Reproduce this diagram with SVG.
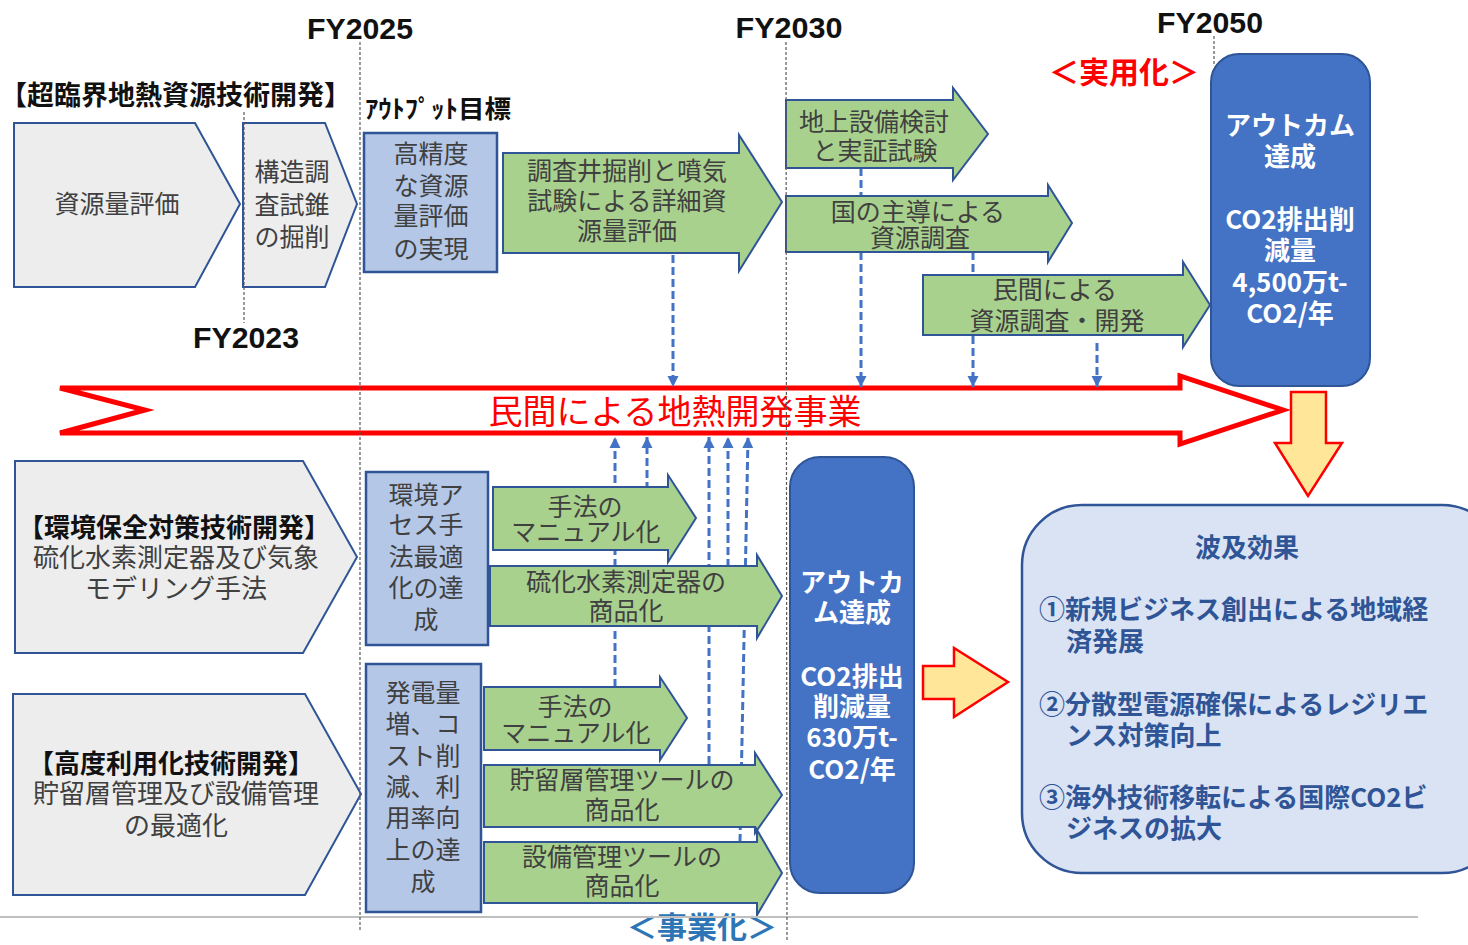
<svg xmlns="http://www.w3.org/2000/svg" width="1468" height="945" viewBox="0 0 1468 945">
<style>
text{font-family:"Noto Sans CJK JP","Noto Sans",sans-serif;}
.chev{fill:#ededed;stroke:#2f5597;stroke-width:2;}
.box{fill:#b4c7e7;stroke:#2f5597;stroke-width:2.5;}
.garr{fill:#a9d18e;stroke:#2f5597;stroke-width:2;}
.out{fill:#4472c4;stroke:#2f5597;stroke-width:2;}
.yarr{fill:#ffe699;stroke:#ff0000;stroke-width:2.5;}
.t{font-size:25px;fill:#404040;text-anchor:middle;}
.tb{font-size:26px;fill:#111;font-weight:bold;text-anchor:middle;}
.tw{font-size:26px;fill:#fff;font-weight:bold;text-anchor:middle;}
.tn{font-size:26px;fill:#2f5597;font-weight:bold;}
.fy{font-family:"Liberation Sans",Arial,sans-serif;font-size:30px;font-weight:bold;fill:#111;text-anchor:middle;}
.tl{stroke:#595959;stroke-width:1.2;stroke-dasharray:3,2;fill:none;}
.dc{stroke:#4472c4;stroke-width:3;stroke-dasharray:8,4;fill:none;}
</style>
<defs>
<marker id="ah" markerUnits="userSpaceOnUse" viewBox="0 0 10 10" refX="10" refY="5" markerWidth="11" markerHeight="12" orient="auto">
<path d="M0,0 L10,5 L0,10 Z" fill="#4472c4"/>
</marker>
</defs>
<rect width="1468" height="945" fill="#fff"/>

<!-- main red arrow -->
<g id="main-arrow">
<path d="M60,388 L1180,388 L1180,376 L1283,410 L1180,444 L1180,433 L60,433 L145,410 Z" fill="#fff" stroke="#ff0000" stroke-width="5" stroke-linejoin="miter"/>
<text x="675" y="424" style="font-size:34px;fill:#ff0000;text-anchor:middle;">民間による地熱開発事業</text>
</g>

<!-- connectors -->
<g id="connectors">
<line class="dc" x1="673" y1="255" x2="673" y2="387" marker-end="url(#ah)"/>
<line class="dc" x1="861" y1="168" x2="861" y2="387" marker-end="url(#ah)"/>
<line class="dc" x1="973" y1="252" x2="973" y2="387" marker-end="url(#ah)"/>
<line class="dc" x1="1097" y1="343" x2="1097" y2="387" marker-end="url(#ah)"/>
<line class="dc" x1="615" y1="687" x2="615" y2="437" marker-end="url(#ah)"/>
<line class="dc" x1="647" y1="490" x2="647" y2="437" marker-end="url(#ah)"/>
<line class="dc" x1="709" y1="764" x2="709" y2="437" marker-end="url(#ah)"/>
<line class="dc" x1="728" y1="567" x2="728" y2="437" marker-end="url(#ah)"/>
<line class="dc" x1="740" y1="842" x2="748" y2="437" marker-end="url(#ah)"/>
</g>

<!-- headings -->
<g id="title">
<text x="0" y="105" style="font-size:27px;font-weight:bold;fill:#111;">【超臨界地熱資源技術開発】</text>
</g>
<g id="output-label">
<text x="365" y="118" textLength="146" lengthAdjust="spacingAndGlyphs" style="font-size:25px;font-weight:bold;fill:#111;">ｱｳﾄﾌﾟｯﾄ目標</text>
</g>

<!-- top chevrons -->
<g id="n-shigen">
<path class="chev" d="M14,123 L195,123 L240,204 L195,287 L14,287 Z"/>
<text class="t" x="117" y="213">資源量評価</text>
</g>
<g id="n-kozo">
<path class="chev" d="M243,123 L325,123 L357,204 L325,287 L243,287 Z"/>
<text class="t" x="292" y="181">構造調</text>
<text class="t" x="292" y="214">査試錐</text>
<text class="t" x="292" y="246">の掘削</text>
</g>
<g id="n-koseido">
<rect class="box" x="364" y="133" width="133" height="139"/>
<text class="t" x="431" y="163">高精度</text>
<text class="t" x="431" y="195">な資源</text>
<text class="t" x="431" y="225">量評価</text>
<text class="t" x="431" y="258">の実現</text>
</g>

<!-- top green arrows -->
<g id="n-chosasei">
<path class="garr" d="M503,153 L739,153 L739,135 L782,202 L739,271 L739,253 L503,253 Z"/>
<text class="t" x="627" y="180">調査井掘削と噴気</text>
<text class="t" x="627" y="210">試験による詳細資</text>
<text class="t" x="627" y="240">源量評価</text>
</g>
<g id="n-chijo">
<path class="garr" d="M786,100 L953,100 L953,88 L988,134 L953,180 L953,168 L786,168 Z"/>
<text class="t" x="874" y="131">地上設備検討</text>
<text class="t" x="875" y="160">と実証試験</text>
</g>
<g id="n-kuni">
<path class="garr" d="M786,196 L1048,196 L1048,185 L1072,223 L1048,262 L1048,252 L786,252 Z"/>
<text class="t" x="918" y="221">国の主導による</text>
<text class="t" x="920" y="247">資源調査</text>
</g>
<g id="n-minkan">
<path class="garr" d="M923,275 L1183,275 L1183,262 L1210,305 L1183,347 L1183,335 L923,335 Z"/>
<text class="t" x="1055" y="299">民間による</text>
<text class="t" x="1057" y="330">資源調査・開発</text>
</g>

<!-- outcome top -->
<g id="n-outcome-top">
<rect class="out" x="1211" y="54" width="159" height="332" rx="28"/>
<text class="tw" x="1290" y="135">アウトカム</text>
<text class="tw" x="1290" y="166">達成</text>
<text class="tw" x="1290" y="229">CO2排出削</text>
<text class="tw" x="1290" y="260">減量</text>
<text class="tw" x="1290" y="292">4,500万t-</text>
<text class="tw" x="1290" y="323">CO2/年</text>
</g>
<g id="label-jitsuyo">
<text x="1124" y="83" style="font-size:30px;font-weight:bold;fill:#ff0000;text-anchor:middle;">＜実用化＞</text>
</g>

<!-- yellow arrows -->
<g id="n-down-arrow">
<path class="yarr" d="M1291,392 L1326,392 L1326,443 L1342,443 L1308,496 L1275,443 L1291,443 Z"/>
</g>
<g id="n-right-arrow">
<path class="yarr" d="M923,666 L954,666 L954,648 L1008,682 L954,717 L954,699 L923,699 Z"/>
</g>

<!-- bottom chevrons -->
<g id="n-kankyo">
<path class="chev" d="M15,461 L303,461 L357,557 L303,653 L15,653 Z"/>
<text class="tb" x="174" y="537">【環境保全対策技術開発】</text>
<text class="t" x="176" y="567" style="font-size:26px">硫化水素測定器及び気象</text>
<text class="t" x="176" y="598" style="font-size:26px">モデリング手法</text>
</g>
<g id="n-kodo">
<path class="chev" d="M13,694 L305,694 L361,794 L305,895 L13,895 Z"/>
<text class="tb" x="171" y="773">【高度利用化技術開発】</text>
<text class="t" x="176" y="803" style="font-size:26px">貯留層管理及び設備管理</text>
<text class="t" x="176" y="835" style="font-size:26px">の最適化</text>
</g>

<!-- bottom blue boxes -->
<g id="n-assess">
<rect class="box" x="366" y="472" width="122" height="173"/>
<text class="t" x="426" y="504">環境ア</text>
<text class="t" x="426" y="534">セス手</text>
<text class="t" x="426" y="566">法最適</text>
<text class="t" x="426" y="597">化の達</text>
<text class="t" x="426" y="629">成</text>
</g>
<g id="n-hatsuden">
<rect class="box" x="366" y="664" width="115" height="248"/>
<text class="t" x="423" y="702">発電量</text>
<text class="t" x="423" y="733">増、コ</text>
<text class="t" x="423" y="765">スト削</text>
<text class="t" x="423" y="796">減、利</text>
<text class="t" x="423" y="827">用率向</text>
<text class="t" x="423" y="859">上の達</text>
<text class="t" x="423" y="891">成</text>
</g>

<!-- bottom green arrows -->
<g id="n-manual1">
<path class="garr" d="M493,487 L668,487 L668,475 L696,518 L668,562 L668,550 L493,550 Z"/>
<text class="t" x="585" y="516">手法の</text>
<text class="t" x="586" y="541">マニュアル化</text>
</g>
<g id="n-ryuka">
<path class="garr" d="M490,566 L757,566 L757,555 L782,596 L757,638 L757,626 L490,626 Z"/>
<text class="t" x="626" y="591">硫化水素測定器の</text>
<text class="t" x="626" y="620">商品化</text>
</g>
<g id="n-manual2">
<path class="garr" d="M484,687 L660,687 L660,677 L687,718 L660,760 L660,750 L484,750 Z"/>
<text class="t" x="575" y="716">手法の</text>
<text class="t" x="576" y="742">マニュアル化</text>
</g>
<g id="n-choryu">
<path class="garr" d="M484,765 L755,765 L755,753 L782,795 L755,833 L755,827 L484,827 Z"/>
<text class="t" x="622" y="789">貯留層管理ツールの</text>
<text class="t" x="622" y="819">商品化</text>
</g>
<g id="n-setsubi">
<path class="garr" d="M484,842 L757,842 L757,830 L782,873 L757,915 L757,903 L484,903 Z"/>
<text class="t" x="622" y="866">設備管理ツールの</text>
<text class="t" x="622" y="895">商品化</text>
</g>

<!-- outcome bottom -->
<g id="n-outcome-bottom">
<rect class="out" x="790" y="457" width="124" height="436" rx="30"/>
<text class="tw" x="852" y="592">アウトカ</text>
<text class="tw" x="852" y="622">ム達成</text>
<text class="tw" x="852" y="686">CO2排出</text>
<text class="tw" x="852" y="716">削減量</text>
<text class="tw" x="852" y="747">630万t-</text>
<text class="tw" x="852" y="779">CO2/年</text>
</g>

<!-- ripple effects -->
<g id="n-hakyu">
<rect x="1022" y="505" width="480" height="368" rx="60" fill="#dae3f3" stroke="#2f5597" stroke-width="2.5"/>
<text class="tn" x="1247" y="557" text-anchor="middle">波及効果</text>
<text class="tn" x="1039" y="619">①新規ビジネス創出による地域経</text>
<text class="tn" x="1066" y="651">済発展</text>
<text class="tn" x="1039" y="714">②分散型電源確保によるレジリエ</text>
<text class="tn" x="1066" y="745">ンス対策向上</text>
<text class="tn" x="1039" y="807">③海外技術移転による国際CO2ビ</text>
<text class="tn" x="1066" y="838">ジネスの拡大</text>
</g>

<g id="label-jigyo">
<text x="702" y="938" style="font-size:30px;font-weight:bold;fill:#2e75b6;text-anchor:middle;">＜事業化＞</text>
</g>

<!-- timeline -->
<g id="timeline">
<line x1="0" y1="917" x2="1418" y2="917" stroke="#bfbfbf" stroke-width="2"/>
<line class="tl" x1="244" y1="112" x2="244" y2="323"/>
<line class="tl" x1="360" y1="42" x2="360" y2="932"/>
<line class="tl" x1="786" y1="42" x2="787" y2="940"/>
<line class="tl" x1="1214" y1="36" x2="1214" y2="66"/>
<text class="fy" x="360" y="39" textLength="106" lengthAdjust="spacingAndGlyphs">FY2025</text>
<text class="fy" x="246" y="348" textLength="106" lengthAdjust="spacingAndGlyphs">FY2023</text>
<text class="fy" x="789" y="38" textLength="107" lengthAdjust="spacingAndGlyphs">FY2030</text>
<text class="fy" x="1210" y="33" textLength="106" lengthAdjust="spacingAndGlyphs">FY2050</text>
</g>
</svg>
